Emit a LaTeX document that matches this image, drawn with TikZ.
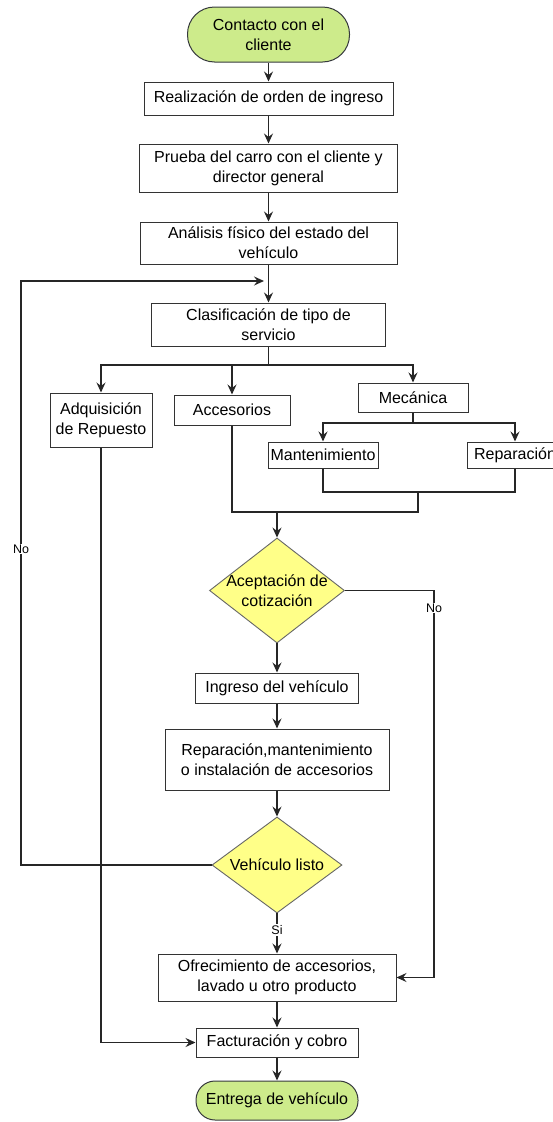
\documentclass[tikz,border=0pt]{standalone}
\usepackage{fontspec}
\setmainfont{Liberation Sans}
\usetikzlibrary{shapes.geometric,arrows.meta}
\definecolor{termgreen}{HTML}{CDEB8B}
\definecolor{termline}{HTML}{36393D}
\definecolor{decyellow}{HTML}{FFFF88}
\definecolor{decline}{HTML}{666666}
\definecolor{boxline}{HTML}{333333}
\begin{document}
\begin{tikzpicture}[x=1pt,y=-1pt,
  txt/.style={font=\fontsize{16}{20}\selectfont, align=center},
  stepbox/.style={txt, draw=boxline, fill=white, line width=1pt, inner sep=0pt, rectangle},
  term/.style={txt, draw=termline, fill=termgreen, line width=1pt, inner sep=0pt, rectangle},
  dec/.style={diamond, draw=decline, fill=decyellow, line width=0.9pt, inner sep=0pt},
  lab/.style={font=\fontsize{12.5}{14}\selectfont, fill=white, inner sep=1pt},
  line/.style={draw=black!85, line width=1.3pt},
  conn/.style={line, -{Stealth[length=10pt,width=9pt,inset=3.5pt]}}]

\fill[white] (0,0) rectangle (552,1122);
\useasboundingbox (0,0) rectangle (552,1122);

% main column, upper part
\node[term, minimum width=162pt, minimum height=55pt, rounded corners=27pt] (start) at (268.5,34.5) {Contacto con el\\cliente};
\node[stepbox, minimum width=249pt, minimum height=33pt] (orden) at (268.5,98.5) {Realización de orden de ingreso};
\node[stepbox, minimum width=258pt, minimum height=48pt] (prueba) at (268.5,168) {Prueba del carro con el cliente y\\director general};
\node[stepbox, minimum width=257pt, minimum height=42pt] (analisis) at (268.5,243) {Análisis físico del estado del\\vehículo};
\node[stepbox, minimum width=234pt, minimum height=43pt] (clasif) at (268.5,324.5) {Clasificación de tipo de\\servicio};

% service types
\node[stepbox, minimum width=102pt, minimum height=54pt] (adq) at (101,420) {Adquisición\\de Repuesto};
\node[stepbox, minimum width=116pt, minimum height=30pt] (acc) at (232,410) {Accesorios};
\node[stepbox, minimum width=110pt, minimum height=29pt] (mec) at (413,397.5) {Mecánica};
\node[stepbox, minimum width=110pt, minimum height=26pt] (mant) at (323,455) {Mantenimiento};
\node[stepbox, minimum width=96pt, minimum height=26pt] (rep) at (515,455) {Reparación};

% main column, lower part
\node[dec, minimum width=135pt, minimum height=105pt] (acept) at (277,590.5) {};
\node[txt] (aceptxt) at (acept) {Aceptación de\\cotización};
\node[stepbox, minimum width=163pt, minimum height=30pt] (ingreso) at (277,688) {Ingreso del vehículo};
\node[stepbox, minimum width=224pt, minimum height=61pt] (trabajo) at (277,759.5) {Reparación,mantenimiento\\o instalación de accesorios};
\node[dec, minimum width=130pt, minimum height=96pt] (listo) at (277,865) {};
\node[txt] (listotxt) at (listo) {Vehículo listo};
\node[stepbox, minimum width=238pt, minimum height=47pt] (ofrec) at (277,977.5) {Ofrecimiento de accesorios,\\lavado u otro producto};
\node[stepbox, minimum width=162pt, minimum height=29pt] (fact) at (277,1042.5) {Facturación y cobro};
\node[term, minimum width=162pt, minimum height=39pt, rounded corners=19pt] (entrega) at (277,1100.5) {Entrega de vehículo};

% routing points
\coordinate (loopin) at (264,281);
\coordinate (loopcorner) at (21,281);
\coordinate (split) at (268.5,365);
\coordinate (msplit) at (413,423);
\coordinate (mjoin) at (418,492);
\coordinate (mfoot) at (418,512);
\coordinate (afoot) at (277,512);
\coordinate (nocorner) at (434,590.5);

% upper chain
\draw[conn] (start) -- (orden);
\draw[conn] (orden) -- (prueba);
\draw[conn] (prueba) -- (analisis);
\draw[conn] (analisis) -- (clasif);

% branching into service types
\draw[line] (clasif) -- (split);
\draw[conn] (split) -| (adq.north);
\draw[conn] (split) -| (acc.north);
\draw[conn] (split) -| (mec.north);
\draw[line] (mec) -- (msplit);
\draw[conn] (msplit) -| (mant.north);
\draw[conn] (msplit) -| (rep.north);

% merging back
\draw[line] (mant.south) |- (mjoin);
\draw[line] (rep.south) |- (mjoin);
\draw[line] (acc.south) |- (mfoot) -- (mjoin);
\draw[conn] (afoot) -- (acept.north);

% lower chain
\draw[conn] (acept) -- (ingreso);
\draw[conn] (ingreso) -- (trabajo);
\draw[conn] (trabajo) -- (listo);
\draw[conn] (listo) -- (ofrec);
\draw[conn] (ofrec) -- (fact);
\draw[conn] (fact) -- (entrega);

% side paths
\draw[conn] (acept.east) -- (nocorner) |- (ofrec.east);
\draw[conn] (listo.west) -| (loopcorner) -- (loopin);
\draw[conn] (adq.south) |- (fact.west);

% branch labels
\node[lab] (nolisto) at (21,549) {No};
\node[lab] (noacept) at (434,608) {No};
\node[lab] (silisto) at (277,930) {Si};
\end{tikzpicture}
\end{document}
